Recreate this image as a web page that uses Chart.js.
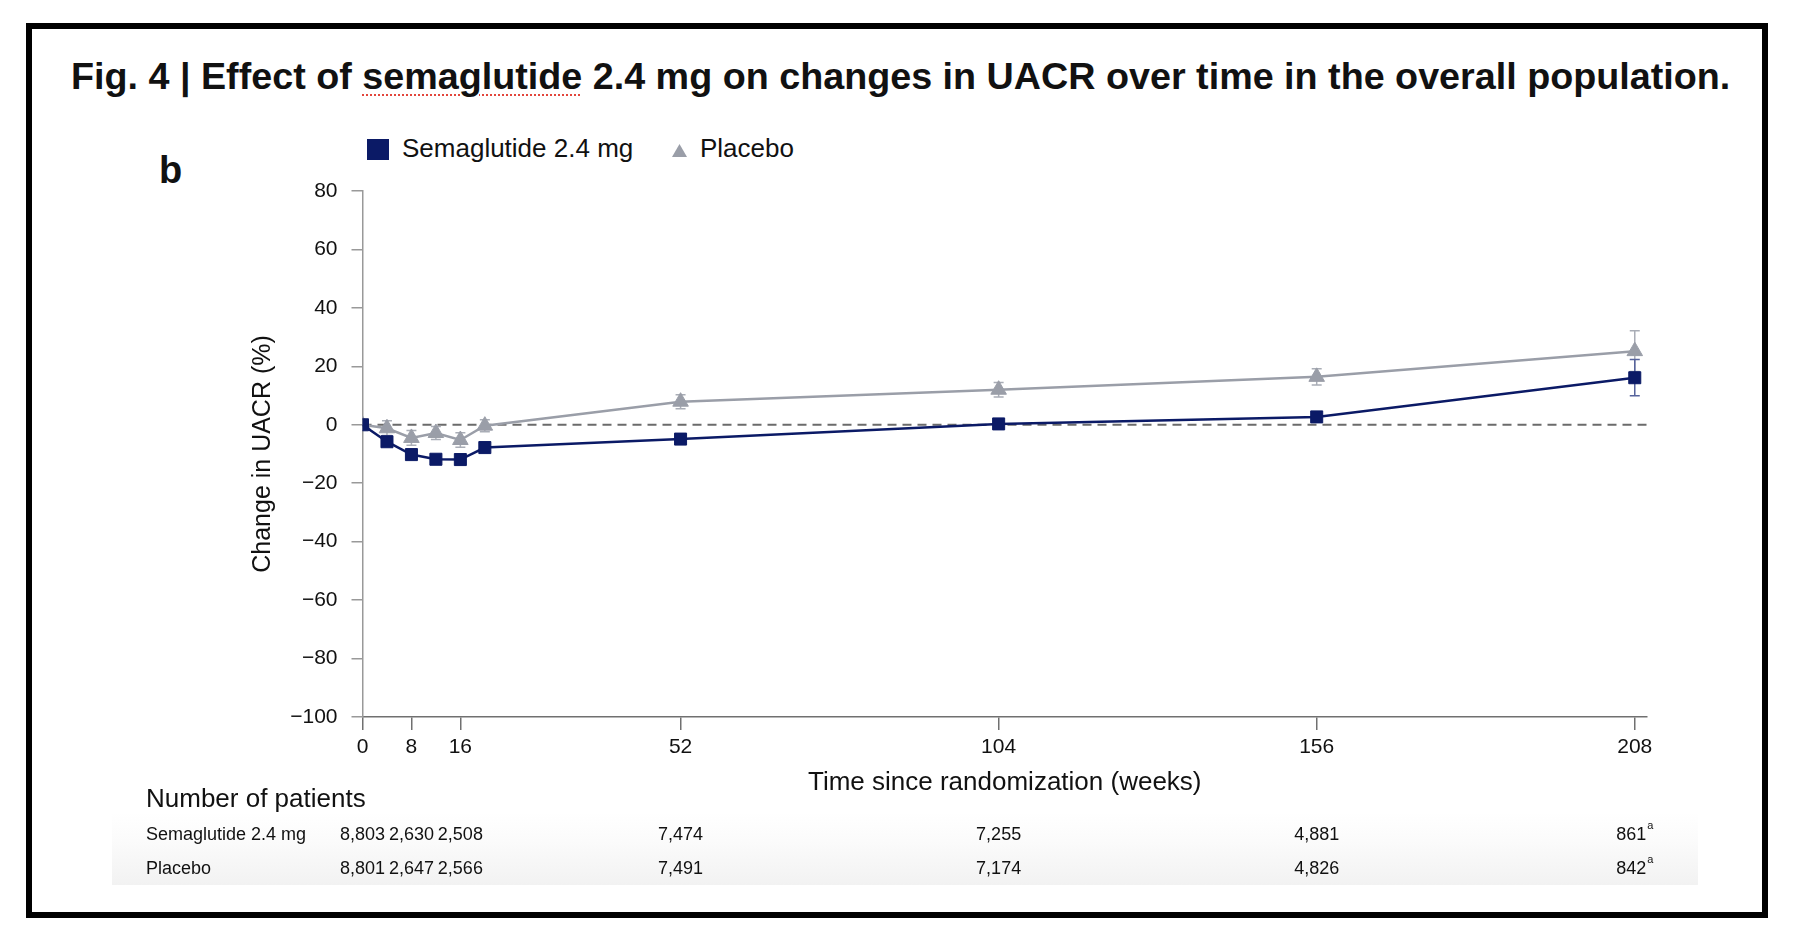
<!DOCTYPE html>
<html>
<head>
<meta charset="utf-8">
<script src="https://cdn.jsdelivr.net/npm/chart.js@4.4.1/dist/chart.umd.min.js"></script>
<style>
  html, body { margin: 0; padding: 0; background: #fff; }
  body { width: 1794px; height: 942px; position: relative; overflow: hidden;
         font-family: "Liberation Sans", Arial, sans-serif; color: #111; }
  #frame { position: absolute; left: 26px; top: 23px; width: 1742px; height: 895px;
           border: 6px solid #000; box-sizing: border-box; }
  #title { position: absolute; left: 71px; top: 58px; font-weight: bold; font-size: 38px;
           line-height: 1; white-space: nowrap; }
  #title .sp { text-decoration: underline dotted #e2463c; text-decoration-thickness: 2px;
               text-underline-offset: 5px; }
  #panel { position: absolute; left: 159px; top: 151px; font-weight: bold; font-size: 38px; line-height: 1; }
  #band { position: absolute; left: 112px; top: 812px; width: 1586px; height: 73px;
          background: linear-gradient(#ffffff 0%, #fbfbfb 40%, #f2f2f2 100%); }
  .leg { position: absolute; font-size: 26px; line-height: 1; top: 135px; color: #111; }
  #legSq { position: absolute; left: 367px; top: 139px; width: 22px; height: 21px; background: #0b1a66; }
  #legTri { position: absolute; left: 672px; top: 144px; width: 15px; height: 13px; background: #9a9ea8;
            clip-path: polygon(50% 0, 100% 100%, 0 100%); }
  #wrap { position: absolute; left: 0; top: 0; width: 1794px; height: 942px; }
</style>
</head>
<body>
<div id="band"></div>
<div id="frame"></div>
<div id="title">Fig. 4 | Effect of <span class="sp">semaglutide</span> 2.4 mg on changes in UACR over time in the overall population.</div>
<div id="panel">b</div>
<div id="legSq"></div>
<div class="leg" style="left:402px">Semaglutide 2.4 mg</div>
<div id="legTri"></div>
<div class="leg" style="left:700px">Placebo</div>
<div id="wrap"><canvas id="myChart"></canvas></div>
<script>
// weeks since randomization
const weeks = [0, 4, 8, 12, 16, 20, 52, 104, 156, 208];
// change in UACR (%)
const sema = [0, -5.8, -10.2, -11.8, -11.9, -7.8, -4.9, 0.3, 2.7, 16.1];
const semaLow = [0, -7.2, -11.6, -13.3, -13.4, -9.3, -6.3, -1.2, 0.9, 9.9];
const semaHigh = [0, -4.4, -8.8, -10.3, -10.4, -6.3, -3.5, 1.8, 4.5, 22.3];
const placebo = [0, -1.2, -4.5, -2.8, -5.2, -0.3, 7.9, 12.0, 16.4, 25.2];
const placeboLow = [0, -3.7, -7.0, -5.0, -7.7, -2.4, 5.5, 9.5, 13.6, 18.2];
const placeboHigh = [0, 1.4, -2.0, -0.6, -2.7, 1.7, 10.3, 14.5, 19.2, 32.2];

// x tick labels
const tickWeeks = [0, 8, 16, 52, 104, 156, 208];

// number of patients table
const riskWeeks = [0, 8, 16, 52, 104, 156, 208];
const semaN = ['8,803', '2,630', '2,508', '7,474', '7,255', '4,881', '861'];
const placeboN = ['8,801', '2,647', '2,566', '7,491', '7,174', '4,826', '842'];
const riskNote = ['', '', '', '', '', '', 'a'];

const NAVY = '#0b1a66';
const GREY = '#9a9ea8';
const FONT = '"Liberation Sans", Arial, sans-serif';

// fit the title to the width it has in the figure
const title = document.getElementById('title');
const fs = 38 * 1660 / title.getBoundingClientRect().width;
title.style.fontSize = fs + 'px';
title.style.top = (90 - 0.8465 * fs) + 'px';

const zeroLine = {
  id: 'zeroLine',
  beforeDatasetsDraw(chart) {
    const {ctx, chartArea, scales} = chart;
    const y = scales.y.getPixelForValue(0);
    ctx.save();
    ctx.strokeStyle = '#6b6b6b';
    ctx.lineWidth = 2;
    ctx.setLineDash([9, 6]);
    ctx.beginPath();
    ctx.moveTo(chartArea.left, y);
    ctx.lineTo(chartArea.right, y);
    ctx.stroke();
    ctx.restore();
  }
};

const errorBars = {
  id: 'errorBars',
  beforeDatasetsDraw(chart) {
    const {ctx, scales} = chart;
    const sets = [[placeboLow, placeboHigh, '#a9adb6'], [semaLow, semaHigh, '#56639c']];
    ctx.save();
    ctx.lineWidth = 1.5;
    sets.forEach(([lo, hi, col]) => {
      ctx.strokeStyle = col;
      weeks.forEach((w, i) => {
        if (lo[i] === hi[i]) return;
        const x = scales.x.getPixelForValue(w);
        const y1 = scales.y.getPixelForValue(lo[i]);
        const y2 = scales.y.getPixelForValue(hi[i]);
        ctx.beginPath();
        ctx.moveTo(x, y1); ctx.lineTo(x, y2);
        ctx.moveTo(x - 5, y1); ctx.lineTo(x + 5, y1);
        ctx.moveTo(x - 5, y2); ctx.lineTo(x + 5, y2);
        ctx.stroke();
      });
    });
    ctx.restore();
  }
};

const riskTable = {
  id: 'riskTable',
  afterDraw(chart) {
    const {ctx, scales} = chart;
    const big = '18px ' + FONT, small = '11px ' + FONT;
    ctx.save();
    ctx.fillStyle = '#111';
    ctx.textBaseline = 'middle';
    ctx.textAlign = 'left';
    ctx.font = '26px ' + FONT;
    ctx.fillText('Number of patients', 146, 800);
    ctx.font = big;
    ctx.fillText('Semaglutide 2.4 mg', 146, 835);
    ctx.fillText('Placebo', 146, 869);
    [[semaN, 835], [placeboN, 869]].forEach(([row, y]) => {
      riskWeeks.forEach((w, i) => {
        ctx.font = big;
        const main = ctx.measureText(row[i]).width;
        ctx.font = small;
        const sup = riskNote[i] ? ctx.measureText(riskNote[i]).width + 1 : 0;
        const x0 = scales.x.getPixelForValue(w) - (main + sup) / 2;
        ctx.font = big;
        ctx.fillText(row[i], x0, y);
        if (riskNote[i]) {
          ctx.font = small;
          ctx.fillText(riskNote[i], x0 + main + 1, y - 9);
        }
      });
    });
    ctx.restore();
  }
};

new Chart(document.getElementById('myChart'), {
  type: 'line',
  data: {
    datasets: [{
      label: 'Semaglutide 2.4 mg',
      data: weeks.map((w, i) => ({x: w, y: sema[i]})),
      borderColor: NAVY,
      backgroundColor: NAVY,
      borderWidth: 2.5,
      pointStyle: 'rect',
      pointRadius: 8.5,
      pointBorderWidth: 1,
      pointBackgroundColor: NAVY,
      pointBorderColor: NAVY,
      tension: 0
    }, {
      label: 'Placebo',
      data: weeks.map((w, i) => ({x: w, y: placebo[i]})),
      borderColor: GREY,
      backgroundColor: GREY,
      borderWidth: 2.5,
      pointStyle: 'triangle',
      pointRadius: 9,
      pointBorderWidth: 1,
      pointBackgroundColor: GREY,
      pointBorderColor: GREY,
      tension: 0
    }]
  },
  options: {
    responsive: true,
    maintainAspectRatio: false,
    animation: false,
    layout: { padding: { left: 240, top: 191, right: 147, bottom: 125 } },
    plugins: { legend: { display: false }, tooltip: { enabled: false } },
    scales: {
      x: {
        type: 'linear',
        min: 0,
        max: 210,
        afterFit(s) { s.height = 100; },
        afterBuildTicks(s) { s.ticks = tickWeeks.map(v => ({value: v})); },
        grid: { drawOnChartArea: false, drawTicks: true, tickLength: 13, color: '#707070', lineWidth: 1.5 },
        border: { display: true, color: '#707070', width: 1.5 },
        ticks: { padding: 5, color: '#111', font: { family: FONT, size: 21 } },
        title: {
          display: true,
          text: 'Time since randomization (weeks)',
          color: '#111',
          font: { family: FONT, size: 26 },
          padding: { top: 0, bottom: 19 }
        }
      },
      y: {
        min: -100,
        max: 80,
        afterFit(s) { s.width = 122.5; },
        grid: { drawOnChartArea: false, drawTicks: true, tickLength: 11, color: '#999', lineWidth: 1.5 },
        border: { display: true, color: '#999', width: 1.5 },
        ticks: {
          stepSize: 20,
          padding: 14,
          color: '#111',
          font: { family: FONT, size: 21 },
          callback: v => (v < 0 ? '\u2212' + Math.abs(v) : String(v))
        },
        title: {
          display: true,
          text: 'Change in UACR (%)',
          color: '#111',
          font: { family: FONT, size: 25 },
          padding: { top: 8, bottom: 0 }
        }
      }
    }
  },
  plugins: [zeroLine, errorBars, riskTable]
});
</script>
</body>
</html>
